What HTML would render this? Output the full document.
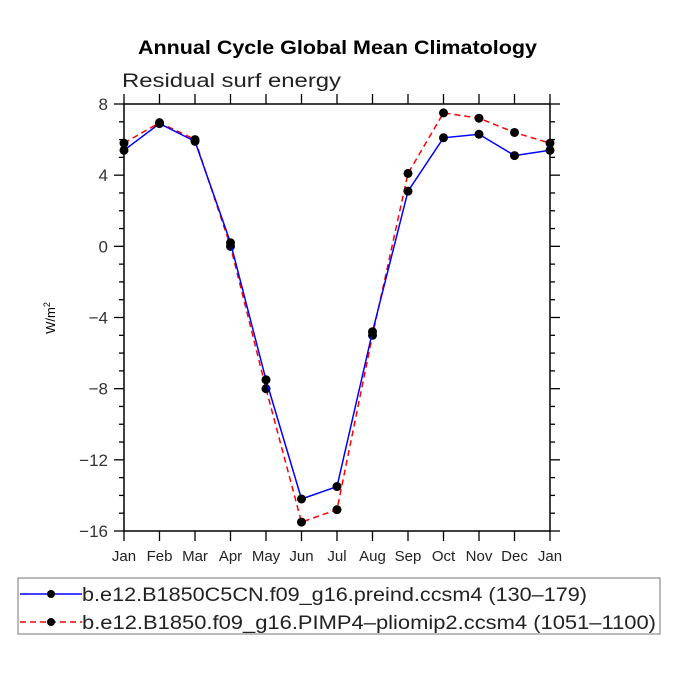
<!DOCTYPE html>
<html><head><meta charset="utf-8"><style>
body{margin:0;background:#fff;width:675px;height:675px;overflow:hidden}
svg{display:block;font-family:"Liberation Sans",sans-serif}
</style></head><body>
<svg id="c" width="675" height="675">
<text x="138" y="54" textLength="399" lengthAdjust="spacingAndGlyphs" font-size="19" font-weight="bold">Annual Cycle Global Mean Climatology</text>
<text x="122" y="87" textLength="219" lengthAdjust="spacingAndGlyphs" font-size="19" fill="#222">Residual surf energy</text>
<text transform="translate(55,318) rotate(-90)" text-anchor="middle" font-size="13">W/m<tspan dy="-5" font-size="9">2</tspan></text>
<g id="axes"></g><g id="series"></g>
<rect x="18" y="578" width="642" height="56" fill="none" stroke="#777"/>
<g>
<line x1="20" y1="594" x2="82" y2="594" stroke="#0000ff" stroke-width="1.5"/><circle cx="51" cy="594" r="4"/>
<text x="82" y="601" textLength="505" lengthAdjust="spacingAndGlyphs" font-size="19" fill="#222">b.e12.B1850C5CN.f09_g16.preind.ccsm4 (130–179)</text></g>
<g>
<line x1="20" y1="622" x2="82" y2="622" stroke="#ff0000" stroke-width="1.5" stroke-dasharray="6,4"/><circle cx="51" cy="622" r="4"/>
<text x="82" y="629" textLength="574" lengthAdjust="spacingAndGlyphs" font-size="19" fill="#222">b.e12.B1850.f09_g16.PIMP4–pliomip2.ccsm4 (1051–1100)</text></g>
</svg>
<script>
const months=["Jan","Feb","Mar","Apr","May","Jun","Jul","Aug","Sep","Oct","Nov","Dec","Jan"];
const preind=[5.4,6.9,5.9,0.2,-7.5,-14.2,-13.5,-4.8,3.1,6.1,6.3,5.1,5.4];
const pliomip=[5.8,6.95,6.0,0.0,-8.0,-15.5,-14.8,-5.0,4.1,7.5,7.2,6.4,5.8];
const yTicks=[8,4,0,-4,-8,-12,-16];
const X0=124,X1=550,Y0=104,Y1=531,ymin=-16,ymax=8;
const xs=i=>X0+(X1-X0)*i/(months.length-1);
const ys=v=>Y1-(v-ymin)/(ymax-ymin)*(Y1-Y0);
const NS="http://www.w3.org/2000/svg";
function mk(t,a,p){const e=document.createElementNS(NS,t);for(const k in a)e.setAttribute(k,a[k]);p.appendChild(e);return e;}
const ax=document.getElementById('axes');
const fr=mk('rect',{x:X0,y:Y0,width:X1-X0,height:Y1-Y0,fill:'none',stroke:'#000','stroke-width':1.5},ax);


months.forEach((m,i)=>{const x=xs(i);
mk('line',{x1:x,y1:Y1,x2:x,y2:Y1+10,stroke:'#000','stroke-width':1.3},ax);
mk('line',{x1:x,y1:Y0,x2:x,y2:Y0-10,stroke:'#000','stroke-width':1.3},ax);
const t=mk('text',{x:x,y:Y1+30,'text-anchor':'middle','font-size':15,fill:'#222'},ax);t.textContent=m;

});
for(let v=ymin;v<=ymax;v+=1){const y=ys(v);const maj=yTicks.includes(v);const L=maj?10:5;
mk('line',{x1:X0,y1:y,x2:X0-L,y2:y,stroke:'#000','stroke-width':1.3},ax);
mk('line',{x1:X1,y1:y,x2:X1+L,y2:y,stroke:'#000','stroke-width':1.3},ax);}
yTicks.forEach(v=>{const t=mk('text',{x:X0-16,y:ys(v)+6,'text-anchor':'end','font-size':17,fill:'#333'},ax);t.textContent=v<0?'\u2212'+(-v):v;

});
const sg=document.getElementById('series');
function draw(vals,col,dash,name){
const p=mk('polyline',{points:vals.map((v,i)=>xs(i)+','+ys(v)).join(' '),fill:'none',stroke:col,'stroke-width':1.5,'stroke-dasharray':dash},sg);


vals.forEach((v,i)=>{const c=mk('circle',{cx:xs(i),cy:ys(v),r:4.5,fill:'#000'},sg);

});}
draw(pliomip,'#ff0000','6,4','pliomip');
draw(preind,'#0000ff','none','preind');
</script>
</body></html>
